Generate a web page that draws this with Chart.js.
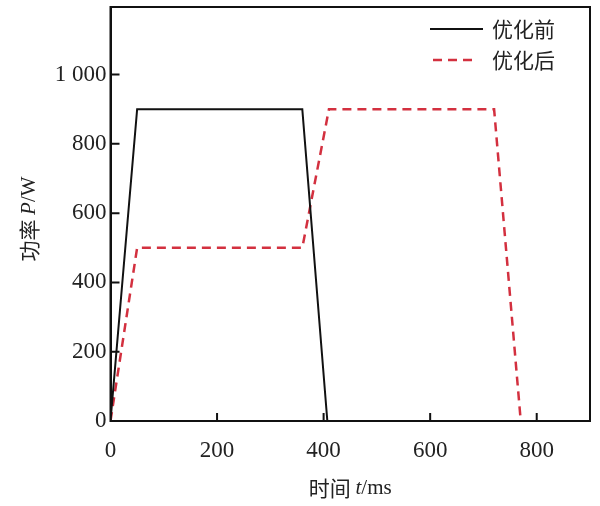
<!DOCTYPE html>
<html>
<head>
<meta charset="utf-8">
<script src="https://cdn.jsdelivr.net/npm/chart.js@4/dist/chart.umd.min.js"></script>
<style>
  html, body { margin: 0; padding: 0; background: #ffffff; }
  #wrap { width: 600px; height: 506px; }
</style>
</head>
<body>
<div id="wrap"><canvas id="c" width="600" height="506"></canvas></div>
<script>
// ---- data ----
const seriesLabels = ['优化前', '优化后'];
const timeBefore  = [0, 50, 360, 407];
const powerBefore = [0, 900, 900, 0];
const timeAfter   = [0, 50, 360, 410, 720, 770];
const powerAfter  = [0, 500, 500, 900, 900, 0];
const xTickValues = [0, 200, 400, 600, 800];
const yTickValues = [0, 200, 400, 600, 800, 1000];
const xTitleParts = ['时间 ', 't', '/ms'];
const yTitleParts = ['功率 ', 'P', '/W'];

const SERIF = '"Liberation Serif", "DejaVu Serif", serif';
const CJK = '"Noto Sans CJK SC", sans-serif';
const TEXT = '#222222';
const RED = '#d3303f';

function toPoints(xs, ys) { return xs.map((x, i) => ({ x: x, y: ys[i] })); }

function drawMixed(ctx, parts, fontSize) {
  const fonts = [
    fontSize + 'px ' + CJK,
    'italic ' + fontSize + 'px ' + SERIF,
    fontSize + 'px ' + SERIF
  ];
  let total = 0;
  const widths = parts.map((p, i) => { ctx.font = fonts[i]; const w = ctx.measureText(p).width; total += w; return w; });
  let x = -total / 2;
  parts.forEach((p, i) => { ctx.font = fonts[i]; ctx.fillText(p, x, 0); x += widths[i]; });
}

const decor = {
  id: 'decor',
  afterDraw(chart) {
    const ctx = chart.ctx;
    const a = chart.chartArea;
    const xs = chart.scales.x, ys = chart.scales.y;
    ctx.save();
    // frame
    ctx.strokeStyle = '#111';
    ctx.lineWidth = 2;
    ctx.strokeRect(a.left, a.top, a.right - a.left, a.bottom - a.top);
    // inward ticks
    ctx.beginPath();
    xTickValues.forEach(v => {
      if (v === 0) return;
      const px = xs.getPixelForValue(v);
      ctx.moveTo(px, a.bottom); ctx.lineTo(px, a.bottom - 8);
    });
    yTickValues.forEach(v => {
      if (v === 0) return;
      const py = ys.getPixelForValue(v);
      ctx.moveTo(a.left, py); ctx.lineTo(a.left + 9, py);
    });
    ctx.stroke();

    // legend
    const ds = chart.data.datasets;
    const rows = [29, 60];
    ds.forEach((d, i) => {
      const y = rows[i];
      ctx.beginPath();
      ctx.strokeStyle = d.borderColor;
      ctx.lineWidth = d.borderWidth;
      ctx.setLineDash(d.borderDash || []);
      if (i === 0) { ctx.moveTo(430, y); ctx.lineTo(483, y); }
      else { ctx.moveTo(433, y); ctx.lineTo(475, y); }
      ctx.stroke();
      ctx.setLineDash([]);
      ctx.fillStyle = TEXT;
      ctx.font = '21px ' + CJK;
      ctx.textBaseline = 'middle';
      ctx.textAlign = 'left';
      ctx.fillText(d.label, 492, y);
    });

    // axis titles
    ctx.fillStyle = TEXT;
    ctx.textBaseline = 'middle';
    ctx.textAlign = 'left';
    ctx.save();
    ctx.translate((a.left + a.right) / 2, 488);
    drawMixed(ctx, xTitleParts, 21);
    ctx.restore();
    ctx.save();
    ctx.translate(29, 219);
    ctx.rotate(-Math.PI / 2);
    drawMixed(ctx, yTitleParts, 21);
    ctx.restore();
    ctx.restore();
  }
};

new Chart(document.getElementById('c'), {
  type: 'line',
  data: {
    datasets: [
      {
        label: seriesLabels[0],
        data: toPoints(timeBefore, powerBefore),
        borderColor: '#111111',
        borderWidth: 2,
        pointRadius: 0,
        fill: false,
        tension: 0
      },
      {
        label: seriesLabels[1],
        data: toPoints(timeAfter, powerAfter),
        borderColor: RED,
        borderWidth: 2.5,
        borderDash: [9, 6],
        pointRadius: 0,
        fill: false,
        tension: 0
      }
    ]
  },
  options: {
    responsive: false,
    animation: false,
    layout: { padding: { top: 7, right: 10, left: 0, bottom: 0 } },
    plugins: { legend: { display: false }, tooltip: { enabled: false } },
    scales: {
      x: {
        type: 'linear',
        min: 0, max: 900,
        afterBuildTicks: s => { s.ticks = xTickValues.map(v => ({ value: v })); },
        ticks: {
          font: { family: SERIF, size: 23 },
          color: TEXT,
          padding: 16,
          maxRotation: 0,
          autoSkip: false
        },
        grid: { display: false, drawTicks: false },
        border: { display: true, color: '#111', width: 2 },
        afterFit: s => { s.height = 85; s.paddingLeft = 0; s.paddingRight = 0; }
      },
      y: {
        type: 'linear',
        min: 0, max: 1195,
        afterBuildTicks: s => { s.ticks = yTickValues.map(v => ({ value: v })); },
        ticks: {
          font: { family: SERIF, size: 23 },
          color: TEXT,
          padding: 4,
          autoSkip: false,
          callback: v => v >= 1000 ? Math.floor(v / 1000) + ' ' + String(v % 1000).padStart(3, '0') : String(v)
        },
        grid: { display: false, drawTicks: false },
        border: { display: true, color: '#111', width: 2 },
        afterFit: s => { s.width = 110.5; s.paddingTop = 0; s.paddingBottom = 0; }
      }
    }
  },
  plugins: [decor]
});
</script>
</body>
</html>
